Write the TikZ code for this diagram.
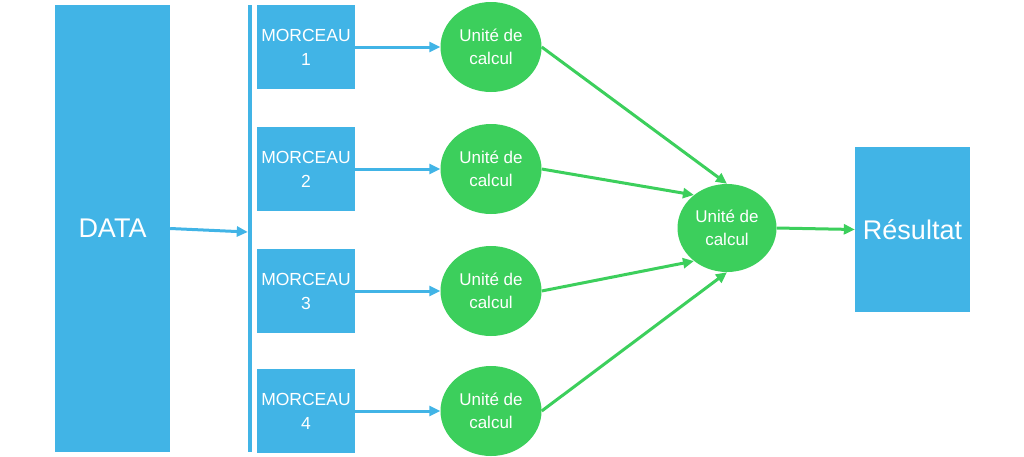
\documentclass[tikz,border=0pt]{standalone}
\usepackage{fontspec}
\setmainfont{Liberation Sans}
\usetikzlibrary{shapes.geometric,arrows.meta}
\definecolor{cblue}{HTML}{41B4E6}
\definecolor{cgreen}{HTML}{3CCF5C}
\tikzset{
  bluebox/.style={rectangle,fill=cblue,draw=none,text=white,inner sep=0pt,align=center},
  calc/.style={ellipse,fill=cgreen,draw=none,text=white,inner sep=0pt,align=center,
    minimum width=101pt,minimum height=90pt,font=\fontsize{17}{23}\selectfont},
  small/.style={font=\fontsize{17.5}{24}\selectfont},
  big/.style={font=\fontsize{27}{30}\selectfont},
  barrow/.style={cblue,line width=3pt,-{Triangle[length=11pt,width=10pt]}},
  garrow/.style={cgreen,line width=3pt,-{Triangle[length=11pt,width=10pt]}}
}
\begin{document}
\begin{tikzpicture}[x=1pt,y=-1pt]
\useasboundingbox (0,0) rectangle (1024,456);
\node[bluebox,big,minimum width=115pt,minimum height=447pt] (data) at (112.5,228.5) {DATA};
\node[rectangle,fill=cblue,minimum width=4pt,minimum height=447pt,inner sep=0pt] (bar) at (250,228.5) {};
\foreach \i/\y in {1/47,2/169,3/291,4/411}{
  \node[bluebox,small,minimum width=98pt,minimum height=84pt] (m\i) at (306,\y) {MORCEAU\\\i};
  \node[calc] (u\i) at (491,\y) {Unité de\\calcul};
}
\node[calc,minimum width=99pt,minimum height=88pt] (uc) at (727,228) {Unité de\\calcul};
\node[bluebox,big,minimum width=115pt,minimum height=165pt] (res) at (912.5,229.5) {Résultat};
\draw[barrow] (data.east) -- ([yshift=-3.5pt]bar.west);
\foreach \i in {1,2,3,4}{
  \draw[barrow] (m\i.east) -- (u\i.west);
}
\draw[garrow] (u1.east) -- (uc.north);
\draw[garrow] (u2.east) -- (uc.135);
\draw[garrow] (u3.east) -- (uc.-135);
\draw[garrow] (u4.east) -- (uc.south);
\draw[garrow] (uc.east) -- (res.west);
\end{tikzpicture}
\end{document}
